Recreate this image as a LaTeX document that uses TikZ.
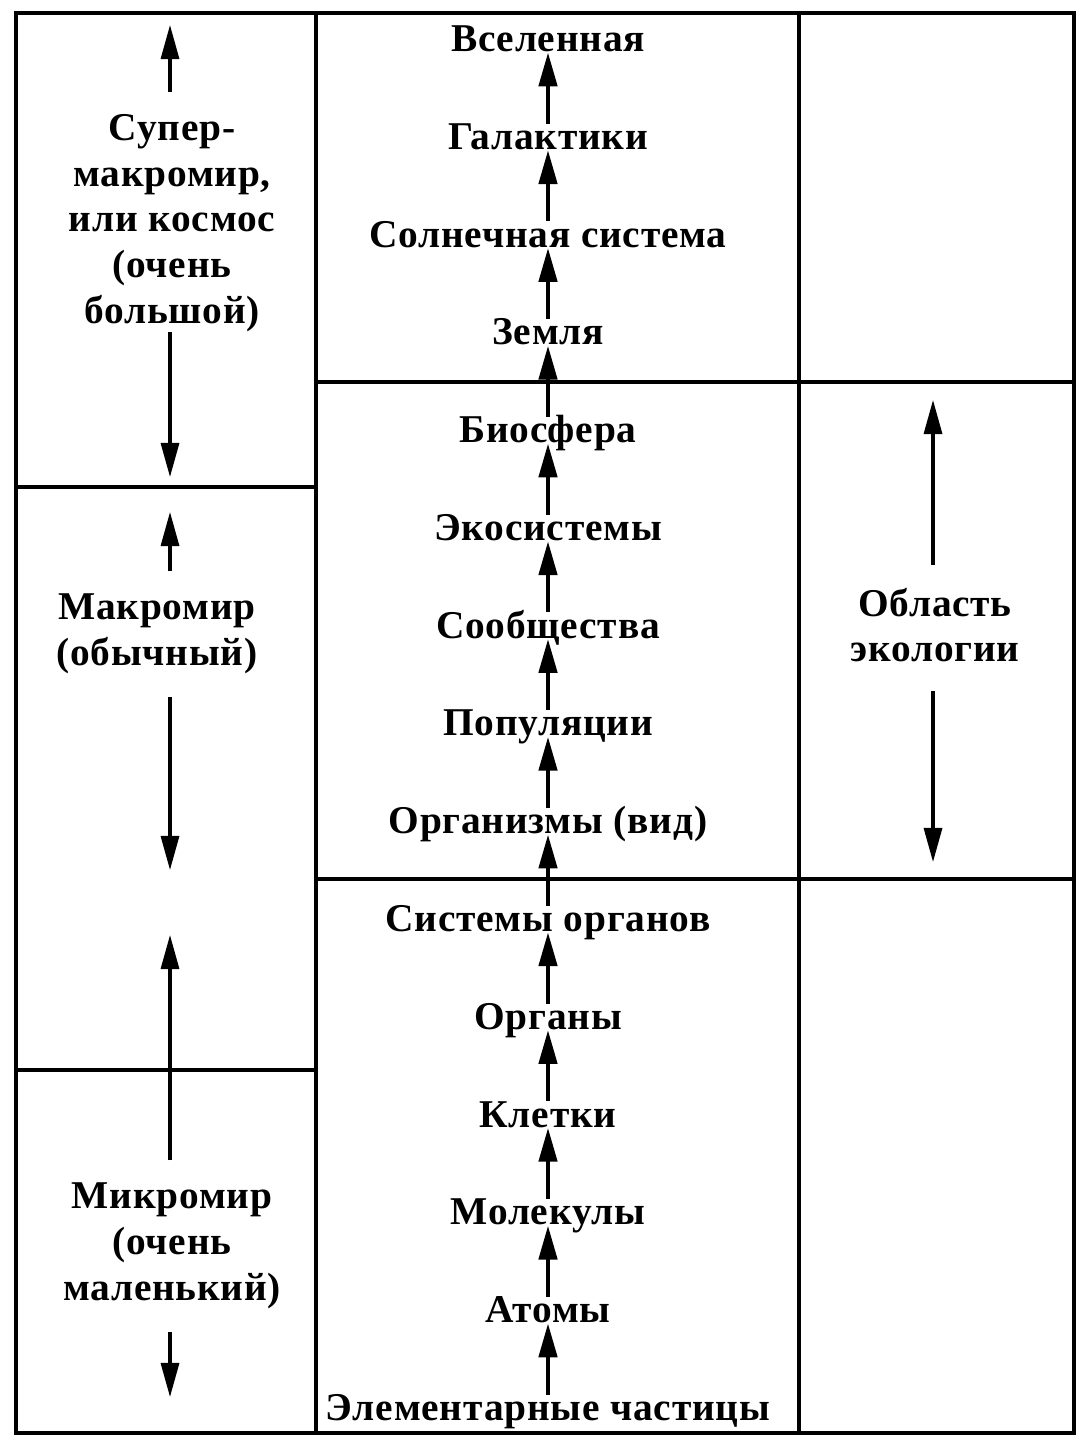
\documentclass[tikz,border=0pt]{standalone}
\usepackage{fontspec}
\setmainfont{Liberation Serif}[LetterSpace=2]
\usetikzlibrary{arrows.meta,positioning}

\begin{document}
\begin{tikzpicture}[x=0.01cm,y=-0.01cm,
    >={Triangle[length=3.4mm,width=1.8mm]},
    node distance=7.13mm,
    stage/.style={inner sep=0pt,text height=2.5mm,text depth=0pt,font=\bfseries\fontsize{11.2}{13}\selectfont},
    world/.style={inner sep=0pt,align=center,font=\bfseries\fontsize{11.2}{13}\selectfont},
    side/.style={->,line width=0.9pt,shorten <=2.2mm},
    frame/.style={line width=1.3pt}]
\useasboundingbox (0,0) rectangle (1092,1440);
% grid
\draw[frame] (16,13) rectangle (1074,1433);
\draw[frame] (316,13) -- (316,1433) (799,13) -- (799,1433);
\draw[frame] (16,487) -- (316,487) (16,1070) -- (316,1070);
\draw[frame] (316,382) -- (1074,382) (316,879) -- (1074,879);

% middle column, bottom up
\node[stage,anchor=south] (chast) at (548,1421) {Элементарные частицы};
\node[stage] [above=of chast] (atomy) {Атомы};
\node[stage] [above=of atomy] (molek) {Молекулы};
\node[stage] [above=of molek] (kletki) {Клетки};
\node[stage] [above=of kletki] (organy) {Органы};
\node[stage] [above=of organy] (sisorg) {Системы органов};
\node[stage] [above=of sisorg] (organizm) {Организмы (вид)};
\node[stage] [above=of organizm] (popul) {Популяции};
\node[stage] [above=of popul] (soobsh) {Сообщества};
\node[stage] [above=of soobsh] (ekosis) {Экосистемы};
\node[stage] [above=of ekosis] (biosf) {Биосфера};
\node[stage] [above=of biosf] (zemlya) {Земля};
\node[stage] [above=of zemlya] (solsis) {Солнечная система};
\node[stage] [above=of solsis] (galakt) {Галактики};
\node[stage] [above=of galakt] (vselen) {Вселенная};
\path[->,line width=1.3pt]
    (chast) edge (atomy)
    (atomy) edge (molek)
    (molek) edge (kletki)
    (kletki) edge (organy)
    (organy) edge (sisorg)
    (sisorg) edge (organizm)
    (organizm) edge (popul)
    (popul) edge (soobsh)
    (soobsh) edge (ekosis)
    (ekosis) edge (biosf)
    (biosf) edge (zemlya)
    (zemlya) edge (solsis)
    (solsis) edge (galakt)
    (galakt) edge (vselen);

% left column
\node[world] (super) at (172,223) {Супер-\\макромир,\\или космос\\(очень\\большой)};
\node[world] (makro) at (157,634) {Макромир\\(обычный)};
\node[world] (mikro) at (172,1246) {Микромир\\(очень\\маленький)};
\coordinate (super top) at (170,25);
\coordinate (super bot) at (170,477);
\coordinate (makro top) at (170,512);
\coordinate (makro bot) at (170,870);
\coordinate (mikro top) at (170,935);
\coordinate (mikro bot) at (170,1397);
\draw[side] (super.north -| super top) -- (super top);
\draw[side,shorten <=0pt] (super.south -| super bot) -- (super bot);
\draw[side] (makro.north -| makro top) -- (makro top);
\draw[side] (makro.south -| makro bot) -- (makro bot);
\draw[side] (mikro.north -| mikro top) -- (mikro top);
\draw[side] (mikro.south -| mikro bot) -- (mikro bot);

% right column
\node[world] (ekol) at (935,625) {Область\\экологии};
\coordinate (ekol top) at (933,400);
\coordinate (ekol bot) at (933,862);
\draw[side] (ekol.north -| ekol top) -- (ekol top);
\draw[side,shorten <=2.8mm] (ekol.south -| ekol bot) -- (ekol bot);
\end{tikzpicture}
\end{document}
